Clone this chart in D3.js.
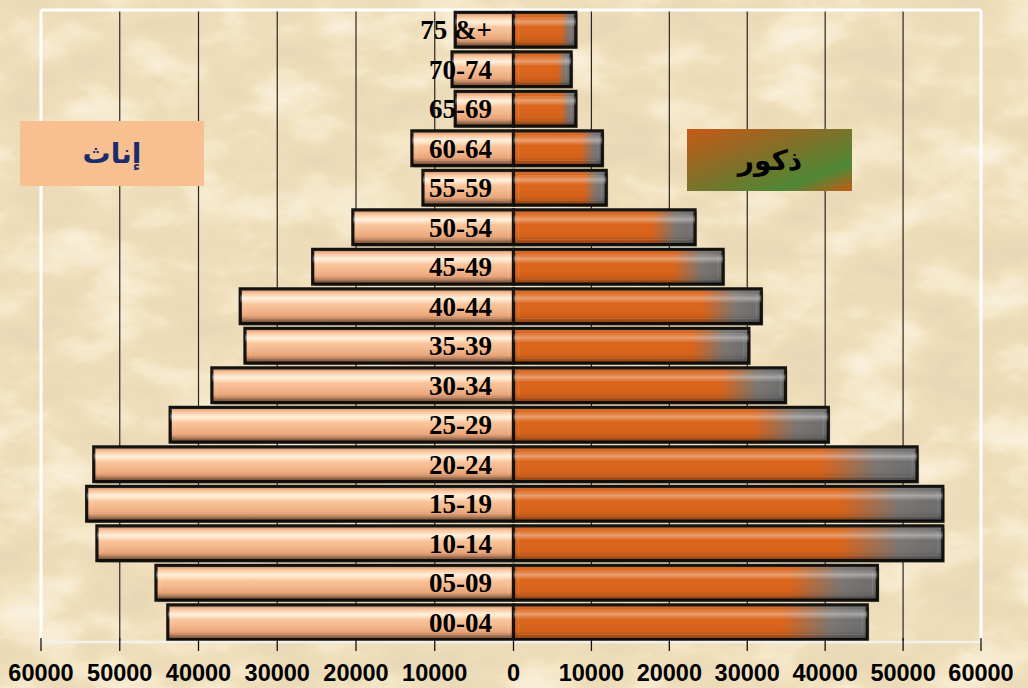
<!DOCTYPE html>
<html>
<head>
<meta charset="utf-8">
<script src="https://cdn.jsdelivr.net/npm/d3@7"></script>
<style>
  html, body { margin: 0; padding: 0; background: #efdcb6; }
  svg { display: block; }
</style>
</head>
<body>
<svg width="1028" height="688"></svg>
<script>
// age groups, bottom to top
const ageGroups = ["00-04", "05-09", "10-14", "15-19", "20-24", "25-29", "30-34", "35-39",
                   "40-44", "45-49", "50-54", "55-59", "60-64", "65-69", "70-74", "75 &+"];
const females = [43900, 45400, 52900, 54200, 53300, 43600, 38300, 34100,
                 34700, 25500, 20400, 11500, 12900, 7400, 7800, 7400];
const males = [45400, 46700, 55100, 55100, 51800, 40400, 34900, 30200,
               31800, 26900, 23300, 11900, 11400, 8000, 7400, 8000];
const tickValues = [-60000, -50000, -40000, -30000, -20000, -10000, 0, 10000, 20000, 30000, 40000, 50000, 60000];
const femaleLabel = "إناث";
const maleLabel = "ذكور";

const svg = d3.select("svg");
const defs = svg.append("defs");

// parchment texture
const tex = defs.append("filter").attr("id", "paper")
  .attr("filterUnits", "userSpaceOnUse").attr("x", 0).attr("y", 0).attr("width", 1028).attr("height", 688);
tex.append("feTurbulence").attr("type", "fractalNoise").attr("baseFrequency", "0.012 0.022").attr("numOctaves", 5).attr("seed", 7).attr("result", "n");
tex.append("feColorMatrix").attr("in", "n").attr("type", "matrix")
  .attr("values", "0 0 0 0 0.78  0 0 0 0 0.66  0 0 0 0 0.46  3 0 0 0 -1.25").attr("result", "dark");
tex.append("feColorMatrix").attr("in", "n").attr("type", "matrix")
  .attr("values", "0 0 0 0 1  0 0 0 0 0.97  0 0 0 0 0.88  -3 0 0 0 1.55").attr("result", "light");
tex.append("feMerge").call(m => {
  m.append("feMergeNode").attr("in", "light");
  m.append("feMergeNode").attr("in", "dark");
});

svg.append("rect").attr("width", 1028).attr("height", 688).attr("fill", "#f1e0bc");
svg.append("g").attr("filter", "url(#paper)").attr("opacity", 0.6)
  .append("rect").attr("width", 1028).attr("height", 688).attr("fill", "#f1e0bc");

// gradients
const fGrad = defs.append("linearGradient").attr("id", "fFill").attr("x1", 0).attr("y1", 0).attr("x2", 0).attr("y2", 1);
[[0, "#c98c62"], [0.1, "#f7b98c"], [0.28, "#ffe6c6"], [0.45, "#f9c39a"], [0.8, "#f3ab7d"], [1, "#a8714d"]]
  .forEach(([o, c]) => fGrad.append("stop").attr("offset", o).attr("stop-color", c));

const mGrad = defs.append("linearGradient").attr("id", "mFill").attr("x1", 0).attr("y1", 0.5).attr("x2", 1).attr("y2", 0.5);
[[0, "#db641a"], [0.76, "#db641a"], [0.9, "#7a7673"], [1, "#6c6c6c"]]
  .forEach(([o, c]) => mGrad.append("stop").attr("offset", o).attr("stop-color", c));

const shine = defs.append("linearGradient").attr("id", "shine").attr("x1", 0).attr("y1", 0).attr("x2", 0).attr("y2", 1);
[[0, "#000", 0.3], [0.12, "#fff", 0.0], [0.27, "#fff", 0.38], [0.42, "#fff", 0.0], [0.78, "#000", 0.05], [1, "#000", 0.4]]
  .forEach(([o, c, a]) => shine.append("stop").attr("offset", o).attr("stop-color", c).attr("stop-opacity", a));

const legGrad = defs.append("linearGradient").attr("id", "legM").attr("x1", 0).attr("y1", 0).attr("x2", 1).attr("y2", 1);
[[0, "#c65a17"], [0.35, "#8f6b25"], [0.78, "#4e8736"], [1, "#c35c17"]]
  .forEach(([o, c]) => legGrad.append("stop").attr("offset", o).attr("stop-color", c));

// scales
const x = d3.scaleLinear().domain([-60000, 0, 60000]).range([41, 513.5, 981]);
const y = d3.scaleBand().domain(ageGroups.slice().reverse()).range([10, 642]).paddingInner(0.12).paddingOuter(0.06);

// gridlines
svg.append("g").selectAll("line")
  .data(tickValues.filter(v => v !== 0 && Math.abs(v) !== 60000))
  .join("line")
  .attr("x1", d => x(d)).attr("x2", d => x(d))
  .attr("y1", 10).attr("y2", 642)
  .attr("stroke", "#2a2520").attr("stroke-width", 1.2);

// white frame
const frame = svg.append("g").attr("stroke", "#ffffff").attr("stroke-width", 3);
frame.append("line").attr("x1", x(-60000)).attr("x2", x(60000)).attr("y1", 10).attr("y2", 10);
frame.append("line").attr("x1", x(-60000)).attr("x2", x(-60000)).attr("y1", 10).attr("y2", 642);
frame.append("line").attr("x1", x(60000)).attr("x2", x(60000)).attr("y1", 10).attr("y2", 642);

// bars
const rows = ageGroups.map((a, i) => ({ age: a, f: females[i], m: males[i] }));
const bars = svg.append("g");

function drawBar(g, x0, x1, yy, h, fill) {
  g.append("rect").attr("x", x0 + 2).attr("y", yy + 2).attr("width", x1 - x0).attr("height", h)
    .attr("fill", "#000").attr("opacity", 0.25);
  g.append("rect").attr("x", x0).attr("y", yy).attr("width", x1 - x0).attr("height", h)
    .attr("fill", fill).attr("stroke", "#141210").attr("stroke-width", 3.2);
  g.append("rect").attr("x", x0).attr("y", yy).attr("width", x1 - x0).attr("height", h)
    .attr("fill", "url(#shine)");
  g.append("rect").attr("x", x0 + 5).attr("y", yy + 5).attr("width", Math.max(0, x1 - x0 - 10)).attr("height", h - 10)
    .attr("fill", "none").attr("stroke", "#ffffff").attr("stroke-opacity", 0.12).attr("stroke-width", 1);
}

rows.forEach(d => {
  const g = bars.append("g");
  drawBar(g, x(-d.f), x(0), y(d.age), y.bandwidth(), "url(#fFill)");
  drawBar(g, x(0), x(d.m), y(d.age), y.bandwidth(), "url(#mFill)");
});

// age labels
svg.append("g").selectAll("text")
  .data(rows)
  .join("text")
  .attr("x", 492)
  .attr("y", d => y(d.age) + y.bandwidth() / 2)
  .attr("dy", "0.36em")
  .attr("text-anchor", "end")
  .attr("font-family", "'Liberation Serif', 'Times New Roman', serif")
  .attr("font-weight", "bold")
  .attr("font-size", 27)
  .attr("fill", "#000")
  .text(d => d.age);

// bottom axis
const axisG = svg.append("g");
axisG.append("line").attr("x1", x(-60000)).attr("x2", x(60000)).attr("y1", 642).attr("y2", 642)
  .attr("stroke", "#f4f1ea").attr("stroke-width", 2.5);
axisG.selectAll("line.tick").data(tickValues).join("line").attr("class", "tick")
  .attr("x1", d => x(d)).attr("x2", d => x(d)).attr("y1", 638).attr("y2", 651)
  .attr("stroke", "#111").attr("stroke-width", 1.3);
axisG.selectAll("text").data(tickValues).join("text")
  .attr("x", d => x(d)).attr("y", 681)
  .attr("text-anchor", "middle")
  .attr("font-family", "'Liberation Sans', Arial, sans-serif")
  .attr("font-weight", "bold")
  .attr("font-size", 23.5)
  .attr("fill", "#000")
  .text(d => Math.abs(d));

// legend boxes
svg.append("rect").attr("x", 20).attr("y", 121).attr("width", 184).attr("height", 65).attr("fill", "#f8bf90");
svg.append("text").attr("x", 112).attr("y", 163).attr("text-anchor", "middle")
  .attr("font-family", "'DejaVu Sans', 'Noto Sans', sans-serif").attr("font-weight", "bold")
  .attr("font-size", 28).attr("fill", "#1b2c6b").text(femaleLabel);

svg.append("rect").attr("x", 687).attr("y", 129).attr("width", 165).attr("height", 62).attr("fill", "url(#legM)");
svg.append("text").attr("x", 770).attr("y", 170).attr("text-anchor", "middle")
  .attr("font-family", "'DejaVu Sans', 'Noto Sans', sans-serif").attr("font-weight", "bold")
  .attr("font-size", 28).attr("fill", "#000").text(maleLabel);
</script>
</body>
</html>
